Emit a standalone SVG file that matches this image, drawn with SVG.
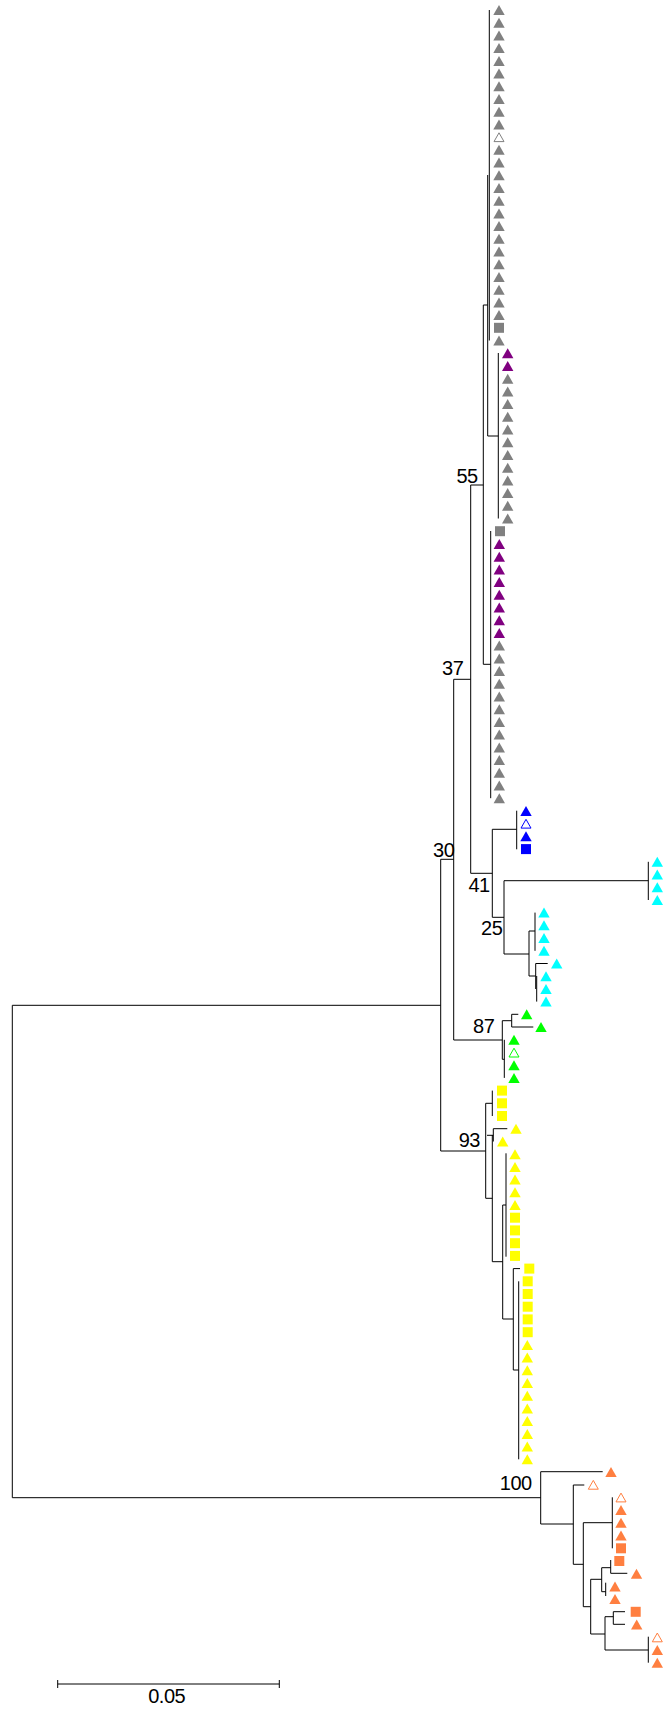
<svg xmlns="http://www.w3.org/2000/svg" xmlns:xlink="http://www.w3.org/1999/xlink" width="665" height="1712" viewBox="0 0 665 1712">
<style>
.e{fill:none;stroke:#000;stroke-width:1}
.lbl{font-family:"Liberation Sans",Arial,sans-serif;font-size:20px;fill:#000;text-anchor:middle;letter-spacing:-0.5px}
.g{fill:#808080}.p{fill:#800080}.b{fill:#0000ff}.c{fill:#00ffff}.gr{fill:#00ff00}.y{fill:#ffff00}.o{fill:#ff7f40}
.hg{fill:#fff;stroke:#808080}.hb{fill:#fff;stroke:#0000ff}.hgr{fill:#fff;stroke:#00ff00}.ho{fill:#fff;stroke:#ff7f40}
</style>
<defs>
<path id="T" d="M0,-5 L5.7,5 L-5.7,5 Z"/>
<path id="H" d="M0,-4.3 L5,4.5 L-5,4.5 Z"/>
<rect id="S" x="-5" y="-5" width="10" height="10"/>
</defs>
<rect width="665" height="1712" fill="#fff"/>
<g id="connectors" class="e">
<path d="M489.3,10V340.5 M487.7,175V436 M483.3,305H487.7 M483.3,305V664.3 M487.7,436H498.3 M498.3,353V518.5 M470.7,485H483.3 M490.7,531V798.2 M483.3,664.3H490.7 M470.7,485V873.3 M453.7,679.3H470.7 M453.7,679.3V1040 M440.7,859.3H453.7 M440.7,859.3V1151 M12.3,1005.3H440.7 M12.3,1005.3V1497.7 M12.3,1497.7H540.7"/>
<path d="M470.7,873.3H492.3 M492.3,829.3V917.3 M492.3,829.3H516.7 M516.7,810.7V849.3 M492.3,917.3H504 M504,880.7V954 M504,880.7H648.3 M648.3,861.8V900 M504,954H529 M529,931V976 M529,931H535 M535,912.6V950.8 M529,976H535.7 M535.7,963.5V989 M535.7,963.5H547.7 M536.7,976V1001.6"/>
<path d="M453.7,1040H502.3 M502.3,1020.7V1059.3 M502.3,1020.7H511.7 M511.7,1014.3V1027 M511.7,1014.3H518.3 M511.7,1027H533.3 M502.3,1059.3H504.3 M504.3,1039.8V1077.9"/>
<path d="M440.7,1151H485.7 M485.7,1103.3V1198.3 M485.7,1103.3H492.3 M492.3,1090.6V1116 M487,1135.3H493.3 M493.3,1128.7V1141.5 M493.3,1128.7H507.3 M485.7,1198.3H492.3 M492.3,1135V1261.7 M492.3,1261.7H502.7 M506,1153.3V1256.7 M502.7,1205H506 M502.7,1205V1319 M502.7,1319H513.3 M513.3,1268.6V1370 M513.3,1268.6H520 M513.3,1370H518.7 M518.7,1281.3V1459.3"/>
<path d="M540.7,1471.7H602.7 M540.7,1471.7V1524 M540.7,1524H573.3 M573.3,1485V1564.3 M573.3,1485H584.3 M573.3,1564.3H583.3 M583.3,1522.7V1606.7 M583.3,1522.7H612.3 M612.3,1497.3V1548.3 M583.3,1606.7H590.7 M590.7,1579.3V1634 M590.7,1579.3H601.7 M601.7,1567.7V1591.7 M601.7,1567.7H610.7 M610.7,1560V1573.3 M610.7,1573.3H627.3 M601.7,1591.7H605.7 M605.7,1582.7V1596 M590.7,1634H605 M605,1616.7V1650 M605,1616.7H613.3 M613.3,1611.7V1624.3 M613.3,1611.7H625 M613.3,1624.3H625 M605,1650H648.3 M648.3,1636.7V1662.7"/>
</g>
<g id="labels">
<text class="lbl" x="467" y="483">55</text>
<text class="lbl" x="452.7" y="675">37</text>
<text class="lbl" x="443.7" y="856.7">30</text>
<text class="lbl" x="479" y="891.7">41</text>
<text class="lbl" x="491.7" y="934.5">25</text>
<text class="lbl" x="483.7" y="1033.3">87</text>
<text class="lbl" x="469.3" y="1146.7">93</text>
<text class="lbl" x="515.8" y="1490">100</text>
</g>
<g id="scale-bar">
<path class="e" d="M57.7,1684H279.3 M57.7,1680V1688 M279.3,1680V1688"/>
<text class="lbl" x="166.7" y="1703">0.05</text>
</g>
<g id="tips">
<g id="tip0"><use href="#T" x="499" y="10.0" class="g"/></g>
<g id="tip1"><use href="#T" x="499" y="22.7" class="g"/></g>
<g id="tip2"><use href="#T" x="499" y="35.4" class="g"/></g>
<g id="tip3"><use href="#T" x="499" y="48.1" class="g"/></g>
<g id="tip4"><use href="#T" x="499" y="60.9" class="g"/></g>
<g id="tip5"><use href="#T" x="499" y="73.6" class="g"/></g>
<g id="tip6"><use href="#T" x="499" y="86.3" class="g"/></g>
<g id="tip7"><use href="#T" x="499" y="99.0" class="g"/></g>
<g id="tip8"><use href="#T" x="499" y="111.7" class="g"/></g>
<g id="tip9"><use href="#T" x="499" y="124.4" class="g"/></g>
<g id="tip10"><use href="#H" x="499" y="137.1" class="hg"/></g>
<g id="tip11"><use href="#T" x="499" y="149.8" class="g"/></g>
<g id="tip12"><use href="#T" x="499" y="162.6" class="g"/></g>
<g id="tip13"><use href="#T" x="499" y="175.3" class="g"/></g>
<g id="tip14"><use href="#T" x="499" y="188.0" class="g"/></g>
<g id="tip15"><use href="#T" x="499" y="200.7" class="g"/></g>
<g id="tip16"><use href="#T" x="499" y="213.4" class="g"/></g>
<g id="tip17"><use href="#T" x="499" y="226.1" class="g"/></g>
<g id="tip18"><use href="#T" x="499" y="238.8" class="g"/></g>
<g id="tip19"><use href="#T" x="499" y="251.5" class="g"/></g>
<g id="tip20"><use href="#T" x="499" y="264.3" class="g"/></g>
<g id="tip21"><use href="#T" x="499" y="277.0" class="g"/></g>
<g id="tip22"><use href="#T" x="499" y="289.7" class="g"/></g>
<g id="tip23"><use href="#T" x="499" y="302.4" class="g"/></g>
<g id="tip24"><use href="#T" x="499" y="315.1" class="g"/></g>
<g id="tip25"><use href="#S" x="499" y="327.8" class="g"/></g>
<g id="tip26"><use href="#T" x="499" y="340.5" class="g"/></g>
<g id="tip27"><use href="#T" x="507.7" y="353.3" class="p"/></g>
<g id="tip28"><use href="#T" x="507.7" y="366.0" class="p"/></g>
<g id="tip29"><use href="#T" x="507.7" y="378.7" class="g"/></g>
<g id="tip30"><use href="#T" x="507.7" y="391.4" class="g"/></g>
<g id="tip31"><use href="#T" x="507.7" y="404.1" class="g"/></g>
<g id="tip32"><use href="#T" x="507.7" y="416.8" class="g"/></g>
<g id="tip33"><use href="#T" x="507.7" y="429.5" class="g"/></g>
<g id="tip34"><use href="#T" x="507.7" y="442.2" class="g"/></g>
<g id="tip35"><use href="#T" x="507.7" y="455.0" class="g"/></g>
<g id="tip36"><use href="#T" x="507.7" y="467.7" class="g"/></g>
<g id="tip37"><use href="#T" x="507.7" y="480.4" class="g"/></g>
<g id="tip38"><use href="#T" x="507.7" y="493.1" class="g"/></g>
<g id="tip39"><use href="#T" x="507.7" y="505.8" class="g"/></g>
<g id="tip40"><use href="#T" x="507.7" y="518.5" class="g"/></g>
<g id="tip41"><use href="#S" x="500" y="531.2" class="g"/></g>
<g id="tip42"><use href="#T" x="499.3" y="543.9" class="p"/></g>
<g id="tip43"><use href="#T" x="499.3" y="556.7" class="p"/></g>
<g id="tip44"><use href="#T" x="499.3" y="569.4" class="p"/></g>
<g id="tip45"><use href="#T" x="499.3" y="582.1" class="p"/></g>
<g id="tip46"><use href="#T" x="499.3" y="594.8" class="p"/></g>
<g id="tip47"><use href="#T" x="499.3" y="607.5" class="p"/></g>
<g id="tip48"><use href="#T" x="499.3" y="620.2" class="p"/></g>
<g id="tip49"><use href="#T" x="499.3" y="632.9" class="p"/></g>
<g id="tip50"><use href="#T" x="499.3" y="645.6" class="g"/></g>
<g id="tip51"><use href="#T" x="499.3" y="658.4" class="g"/></g>
<g id="tip52"><use href="#T" x="499.3" y="671.1" class="g"/></g>
<g id="tip53"><use href="#T" x="499.3" y="683.8" class="g"/></g>
<g id="tip54"><use href="#T" x="499.3" y="696.5" class="g"/></g>
<g id="tip55"><use href="#T" x="499.3" y="709.2" class="g"/></g>
<g id="tip56"><use href="#T" x="499.3" y="721.9" class="g"/></g>
<g id="tip57"><use href="#T" x="499.3" y="734.6" class="g"/></g>
<g id="tip58"><use href="#T" x="499.3" y="747.4" class="g"/></g>
<g id="tip59"><use href="#T" x="499.3" y="760.1" class="g"/></g>
<g id="tip60"><use href="#T" x="499.3" y="772.8" class="g"/></g>
<g id="tip61"><use href="#T" x="499.3" y="785.5" class="g"/></g>
<g id="tip62"><use href="#T" x="499.3" y="798.2" class="g"/></g>
<g id="tip63"><use href="#T" x="526" y="810.9" class="b"/></g>
<g id="tip64"><use href="#H" x="526" y="823.6" class="hb"/></g>
<g id="tip65"><use href="#T" x="526" y="836.3" class="b"/></g>
<g id="tip66"><use href="#S" x="526" y="849.1" class="b"/></g>
<g id="tip67"><use href="#T" x="657.3" y="861.8" class="c"/></g>
<g id="tip68"><use href="#T" x="657.3" y="874.5" class="c"/></g>
<g id="tip69"><use href="#T" x="657.3" y="887.2" class="c"/></g>
<g id="tip70"><use href="#T" x="657.3" y="899.9" class="c"/></g>
<g id="tip71"><use href="#T" x="544" y="912.6" class="c"/></g>
<g id="tip72"><use href="#T" x="544" y="925.3" class="c"/></g>
<g id="tip73"><use href="#T" x="544" y="938.0" class="c"/></g>
<g id="tip74"><use href="#T" x="544" y="950.8" class="c"/></g>
<g id="tip75"><use href="#T" x="556.7" y="963.5" class="c"/></g>
<g id="tip76"><use href="#T" x="546" y="976.2" class="c"/></g>
<g id="tip77"><use href="#T" x="546" y="988.9" class="c"/></g>
<g id="tip78"><use href="#T" x="546" y="1001.6" class="c"/></g>
<g id="tip79"><use href="#T" x="526.7" y="1014.3" class="gr"/></g>
<g id="tip80"><use href="#T" x="541" y="1027.0" class="gr"/></g>
<g id="tip81"><use href="#T" x="514" y="1039.8" class="gr"/></g>
<g id="tip82"><use href="#H" x="514" y="1052.5" class="hgr"/></g>
<g id="tip83"><use href="#T" x="514" y="1065.2" class="gr"/></g>
<g id="tip84"><use href="#T" x="514" y="1077.9" class="gr"/></g>
<g id="tip85"><use href="#S" x="502" y="1090.6" class="y"/></g>
<g id="tip86"><use href="#S" x="502" y="1103.3" class="y"/></g>
<g id="tip87"><use href="#S" x="502" y="1116.0" class="y"/></g>
<g id="tip88"><use href="#T" x="516" y="1128.7" class="y"/></g>
<g id="tip89"><use href="#T" x="502.7" y="1141.5" class="y"/></g>
<g id="tip90"><use href="#T" x="515" y="1154.2" class="y"/></g>
<g id="tip91"><use href="#T" x="515" y="1166.9" class="y"/></g>
<g id="tip92"><use href="#T" x="515" y="1179.6" class="y"/></g>
<g id="tip93"><use href="#T" x="515" y="1192.3" class="y"/></g>
<g id="tip94"><use href="#T" x="515" y="1205.0" class="y"/></g>
<g id="tip95"><use href="#S" x="515" y="1217.7" class="y"/></g>
<g id="tip96"><use href="#S" x="515" y="1230.4" class="y"/></g>
<g id="tip97"><use href="#S" x="515" y="1243.2" class="y"/></g>
<g id="tip98"><use href="#S" x="515" y="1255.9" class="y"/></g>
<g id="tip99"><use href="#S" x="529.3" y="1268.6" class="y"/></g>
<g id="tip100"><use href="#S" x="527.7" y="1281.3" class="y"/></g>
<g id="tip101"><use href="#S" x="527.7" y="1294.0" class="y"/></g>
<g id="tip102"><use href="#S" x="527.7" y="1306.7" class="y"/></g>
<g id="tip103"><use href="#S" x="527.7" y="1319.4" class="y"/></g>
<g id="tip104"><use href="#S" x="527.7" y="1332.2" class="y"/></g>
<g id="tip105"><use href="#T" x="527.3" y="1344.9" class="y"/></g>
<g id="tip106"><use href="#T" x="527.3" y="1357.6" class="y"/></g>
<g id="tip107"><use href="#T" x="527.3" y="1370.3" class="y"/></g>
<g id="tip108"><use href="#T" x="527.3" y="1383.0" class="y"/></g>
<g id="tip109"><use href="#T" x="527.3" y="1395.7" class="y"/></g>
<g id="tip110"><use href="#T" x="527.3" y="1408.4" class="y"/></g>
<g id="tip111"><use href="#T" x="527.3" y="1421.1" class="y"/></g>
<g id="tip112"><use href="#T" x="527.3" y="1433.9" class="y"/></g>
<g id="tip113"><use href="#T" x="527.3" y="1446.6" class="y"/></g>
<g id="tip114"><use href="#T" x="527.3" y="1459.3" class="y"/></g>
<g id="tip115"><use href="#T" x="611" y="1472.0" class="o"/></g>
<g id="tip116"><use href="#H" x="593.3" y="1484.7" class="ho"/></g>
<g id="tip117"><use href="#H" x="621" y="1497.4" class="ho"/></g>
<g id="tip118"><use href="#T" x="621" y="1510.1" class="o"/></g>
<g id="tip119"><use href="#T" x="621" y="1522.8" class="o"/></g>
<g id="tip120"><use href="#T" x="621" y="1535.6" class="o"/></g>
<g id="tip121"><use href="#S" x="621" y="1548.3" class="o"/></g>
<g id="tip122"><use href="#S" x="619.3" y="1561.0" class="o"/></g>
<g id="tip123"><use href="#T" x="636.5" y="1573.7" class="o"/></g>
<g id="tip124"><use href="#T" x="615" y="1586.4" class="o"/></g>
<g id="tip125"><use href="#T" x="615" y="1599.1" class="o"/></g>
<g id="tip126"><use href="#S" x="635.7" y="1611.8" class="o"/></g>
<g id="tip127"><use href="#T" x="636.7" y="1624.5" class="o"/></g>
<g id="tip128"><use href="#H" x="657.3" y="1637.3" class="ho"/></g>
<g id="tip129"><use href="#T" x="657.3" y="1650.0" class="o"/></g>
<g id="tip130"><use href="#T" x="657.3" y="1662.7" class="o"/></g>
</g>
</svg>
